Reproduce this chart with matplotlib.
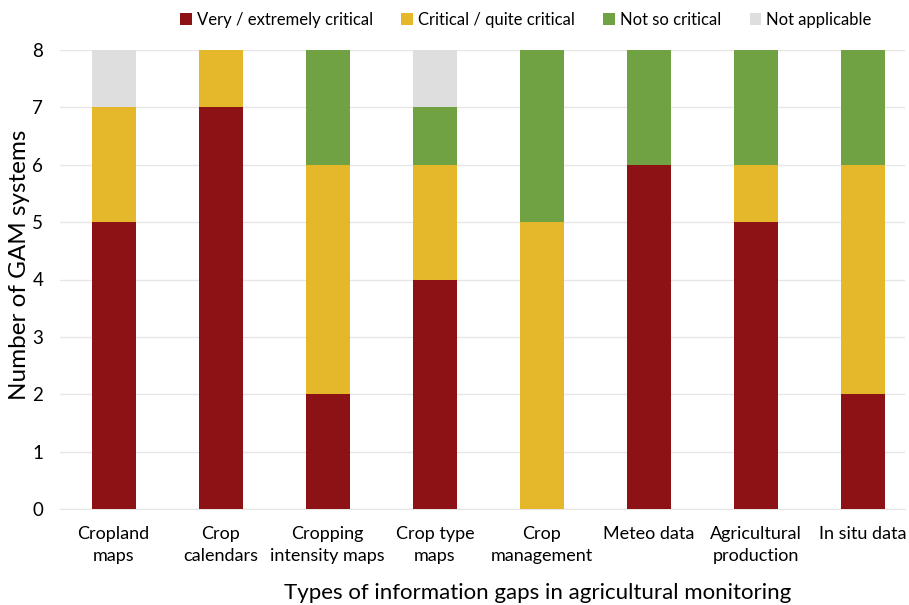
import matplotlib
matplotlib.use("Agg")
import matplotlib.pyplot as plt
import numpy as np

categories = ["Cropland\nmaps", "Crop\ncalendars", "Cropping\nintensity maps", "Crop type\nmaps",
              "Crop\nmanagement", "Meteo data", "Agricultural\nproduction", "In situ data"]
series_names = ["Very / extremely critical", "Critical / quite critical", "Not so critical", "Not applicable"]
very = [5, 7, 2, 4, 0, 6, 5, 2]
critical = [2, 1, 4, 2, 5, 0, 1, 4]
not_so = [0, 0, 2, 1, 3, 2, 2, 2]
not_app = [1, 0, 0, 1, 0, 0, 0, 0]
colors = ["#8C1215", "#E5B82B", "#70A142", "#DEDEDE"]

plt.rcParams['font.family'] = ['Lato', 'DejaVu Sans']
W, H = 909, 605
fig = plt.figure(figsize=(W/100, H/100), dpi=100)
ax = fig.add_axes([60/W, 1-509/H, 845/W, (509-50)/H])

x = np.arange(len(categories))
bottom = np.zeros(len(categories))
for name, vals, c in zip(series_names, [very, critical, not_so, not_app], colors):
    ax.bar(x, vals, 0.41, bottom=bottom, color=c, label=name, zorder=3)
    bottom += np.array(vals)

ax.set_xlim(-0.5, 7.39)
ax.set_ylim(0, 8)
ax.set_yticks(range(0, 9))
ax.grid(axis='y', color='#E6E6E6', linewidth=1, zorder=0)
for s in ['top', 'right', 'left']:
    ax.spines[s].set_visible(False)
ax.spines['bottom'].set_color('#E6E6E6')
ax.tick_params(axis='both', length=0, colors='black')
ax.tick_params(axis='y', labelsize=13.5, pad=12)
ax.tick_params(axis='x', labelsize=13, pad=12)
ax.set_xticks(x)
ax.set_xticklabels(categories, linespacing=1.45)
ax.set_ylabel("Number of GAM systems", fontsize=17.5)
ax.yaxis.set_label_coords((20-60)/845, (509-265)/459)
ax.set_xlabel("Types of information gaps in agricultural monitoring", fontsize=16)
ax.xaxis.set_label_coords((538-60)/845, -(593-509)/459)
ax.xaxis.label.set_va('center')
ax.yaxis.label.set_va('center')

fig.legend(loc='center', bbox_to_anchor=(526/W, 1-20/H), ncol=4, frameon=False,
           fontsize=12, handlelength=0.7, handleheight=0.7, handletextpad=0.3, columnspacing=1.7)

fig.savefig("out.png", dpi=100)
